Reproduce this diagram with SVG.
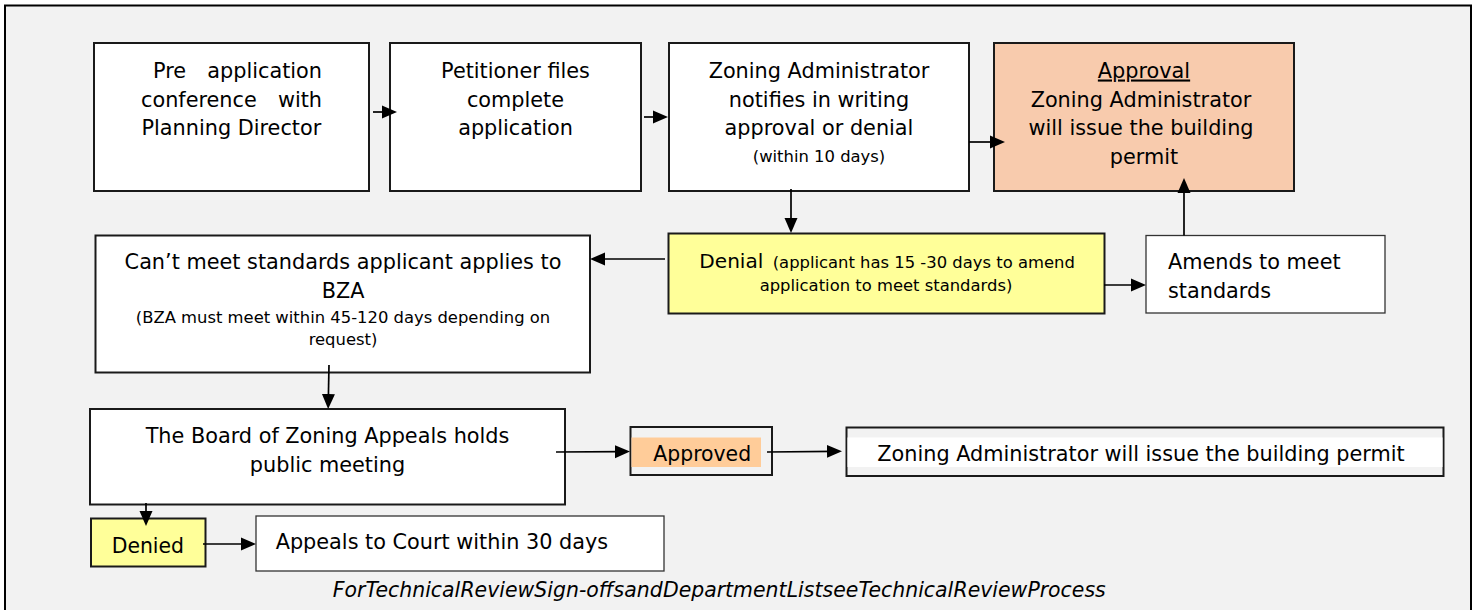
<svg xmlns="http://www.w3.org/2000/svg" width="1479" height="610" viewBox="0 0 1479 610">
  <style>
    .t { font-family: "DejaVu Sans", Verdana, "Liberation Sans", sans-serif; font-size: 20.8px; fill: #000; }
    .s { font-size: 16.4px; }
    .c { text-anchor: middle; }
    .e { text-anchor: end; }
    .box { stroke: #1a1a1a; stroke-width: 2; }
    .thin { stroke: #333; stroke-width: 1.3; }
    .white { fill: #ffffff; }
    .yellow { fill: #ffff99; }
    .peach { fill: #f8cbad; }
    .conn { fill: none; stroke: #000; stroke-width: 1.7; marker-end: url(#arrow); }
  </style>
  <defs>
    <marker id="arrow" markerUnits="userSpaceOnUse" markerWidth="16" markerHeight="14" viewBox="0 0 16 14" refX="7" refY="7" orient="auto">
      <path d="M0,0.5 L15,7 L0,13.5 Z" fill="#000"/>
    </marker>
  </defs>

  <rect x="0" y="0" width="1479" height="610" fill="#ffffff"/>
  <rect id="frame" x="5" y="5.5" width="1466" height="620" fill="#f2f2f2" stroke="#000" stroke-width="2"/>

  <g id="n-pre">
    <rect class="box white" x="94" y="43" width="275" height="148"/>
    <text class="t" x="153" y="78">Pre</text>
    <text class="t e" x="322" y="78">application</text>
    <text class="t" x="141" y="106.5">conference</text>
    <text class="t e" x="322" y="106.5">with</text>
    <text class="t" x="141.5" y="135">Planning Director</text>
  </g>

  <g id="n-petitioner">
    <rect class="box white" x="390" y="43" width="251" height="148"/>
    <text class="t c" x="515.5" y="78">Petitioner files</text>
    <text class="t c" x="515.5" y="106.5">complete</text>
    <text class="t c" x="515.5" y="135">application</text>
  </g>

  <g id="n-notify">
    <rect class="box white" x="669" y="43" width="300" height="148"/>
    <text class="t c" x="819" y="78">Zoning Administrator</text>
    <text class="t c" x="819" y="106.5">notifies in writing</text>
    <text class="t c" x="819" y="135">approval or denial</text>
    <text class="t s c" x="819" y="161.5">(within 10 days)</text>
  </g>

  <g id="n-approval">
    <rect class="box peach" x="994" y="43" width="300" height="148"/>
    <text class="t c" x="1144" y="77.5" text-decoration="underline">Approval</text>
    <text class="t c" x="1141" y="106.5">Zoning Administrator</text>
    <text class="t c" x="1141" y="135">will issue the building</text>
    <text class="t c" x="1144" y="163.5">permit</text>
  </g>

  <g id="n-bza">
    <rect class="box white" x="95.5" y="235.5" width="494.5" height="137"/>
    <text class="t c" x="343" y="269">Can’t meet standards applicant applies to</text>
    <text class="t c" x="343" y="298">BZA</text>
    <text class="t s c" x="343" y="322.5">(BZA must meet within 45-120 days depending on</text>
    <text class="t s c" x="343" y="345">request)</text>
  </g>

  <g id="n-denial">
    <rect class="box yellow" x="668.5" y="233.5" width="436" height="80"/>
    <text class="t" y="267.5"><tspan x="699.3" style="font-size:20.1px">Denial</tspan><tspan class="s" x="772.7">(applicant has 15 -30 days to amend</tspan></text>
    <text class="t s c" x="886" y="291">application to meet standards)</text>
  </g>

  <g id="n-amends">
    <rect class="thin white" x="1146" y="235.5" width="239" height="77.5"/>
    <text class="t" x="1168" y="269">Amends to meet</text>
    <text class="t" x="1168" y="297.5">standards</text>
  </g>

  <g id="n-board">
    <rect class="box white" x="90" y="409" width="475" height="95.5"/>
    <text class="t c" x="327.5" y="442.5">The Board of Zoning Appeals holds</text>
    <text class="t c" x="327.5" y="471.5">public meeting</text>
  </g>

  <g id="n-approved">
    <rect class="box" fill="none" x="630.5" y="427" width="141.5" height="48"/>
    <rect x="631.5" y="437.5" width="129.5" height="29.5" fill="#ffcc99"/>
    <text class="t" x="653.3" y="461" style="font-size:20.4px">Approved</text>
  </g>

  <g id="n-issue">
    <rect class="box" fill="none" x="846.5" y="427.5" width="597" height="48.5"/>
    <rect x="847.5" y="437.5" width="595" height="29.5" fill="#ffffff"/>
    <text class="t" x="877.3" y="461">Zoning Administrator will issue the building permit</text>
  </g>

  <g id="n-denied">
    <rect class="box yellow" x="91" y="518.5" width="114.5" height="48"/>
    <text class="t" x="111.7" y="553.3" style="font-size:20.4px">Denied</text>
  </g>

  <g id="n-court">
    <rect class="thin white" x="256" y="516" width="408" height="55"/>
    <text class="t" x="275.7" y="549.3">Appeals to Court within 30 days</text>
  </g>

  <g id="connectors">
    <path class="conn" d="M373,112 H389"/>
    <path class="conn" d="M644,117 H660"/>
    <path class="conn" d="M969,142 H997"/>
    <path class="conn" d="M791,189 V225"/>
    <path class="conn" d="M665,259 H598"/>
    <path class="conn" d="M1104,285 H1138"/>
    <path class="conn" d="M1184,235.5 V186"/>
    <path class="conn" d="M329,365 L328.3,401"/>
    <path class="conn" d="M556,452 L622,451.6"/>
    <path class="conn" d="M767,452 L834,451.3"/>
    <path class="conn" d="M146,503 V518"/>
    <path class="conn" d="M203,544 H248"/>
  </g>

  <text id="footer" x="332.7" y="597" font-family="'DejaVu Sans', Verdana, sans-serif" font-style="italic" font-size="21" word-spacing="-6.5" textLength="773" lengthAdjust="spacingAndGlyphs" fill="#000">For Technical Review Sign-offs and Department List see Technical Review Process</text>
</svg>
